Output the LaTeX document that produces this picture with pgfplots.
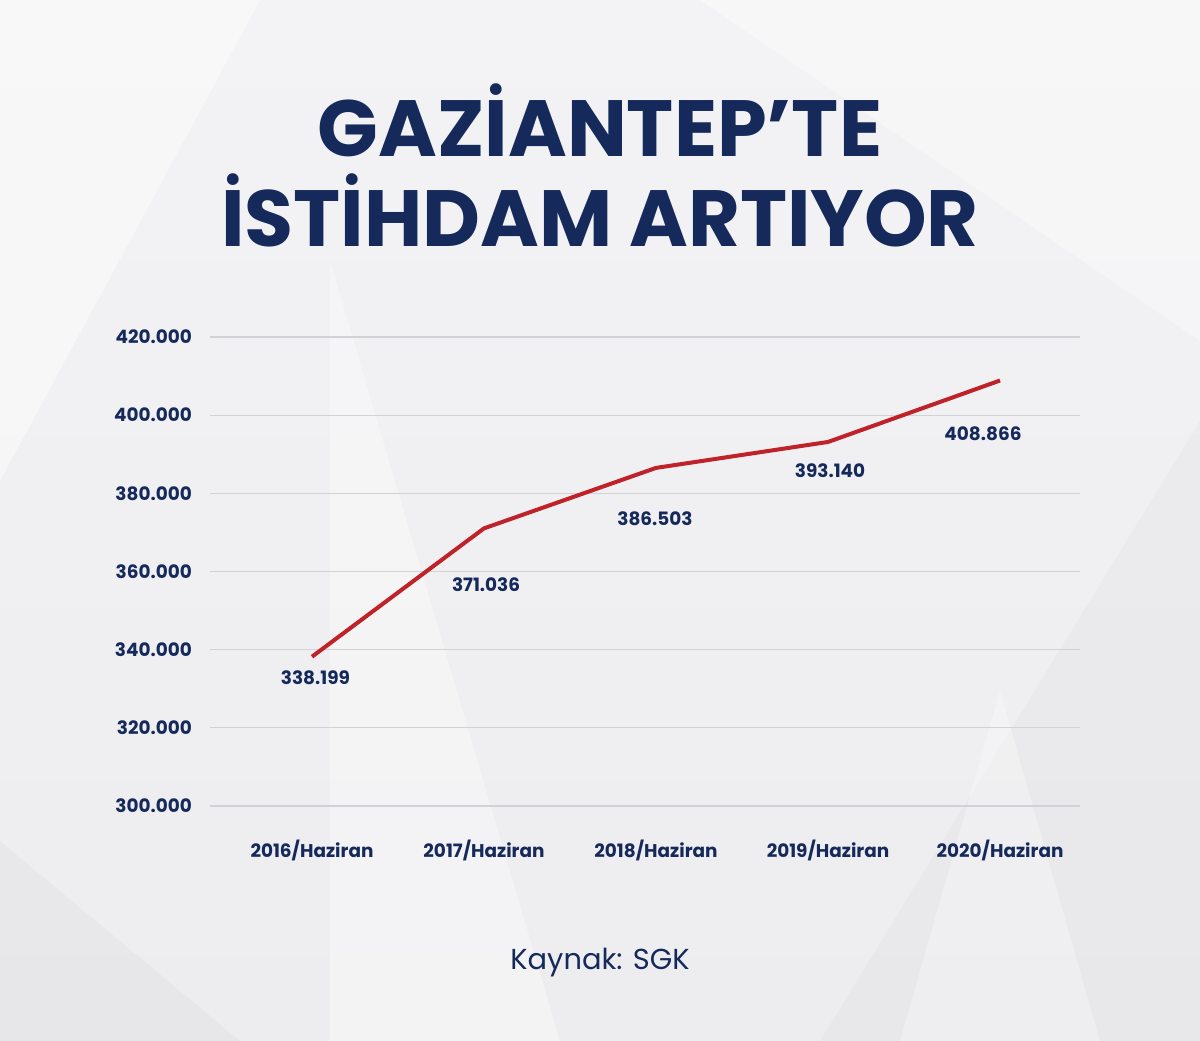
\documentclass[border=0pt]{standalone}
\usepackage{fontspec}
\setmainfont{Poppins}
\usepackage{pgfplots}
\pgfplotsset{compat=1.18}

\definecolor{navy}{HTML}{15295B}
\definecolor{linered}{HTML}{BF2229}
\definecolor{bgtop}{HTML}{F3F3F5}
\definecolor{bgbot}{HTML}{EDEDEF}
\definecolor{gridc}{HTML}{D2D2D6}

\begin{document}
\begin{tikzpicture}[x=1bp,y=1bp]
  % background
  \shade[top color=bgtop, bottom color=bgbot] (0,0) rectangle (1200,1041);
  \fill[white,opacity=0.45] (0,1041) -- (260,1041) -- (0,560) -- cycle;
  \fill[white,opacity=0.35] (330,0) -- (560,0) -- (330,780) -- cycle;
  \fill[black,opacity=0.025] (0,200) -- (240,0) -- (0,0) -- cycle;
  \fill[white,opacity=0.35] (700,1041) -- (1200,1041) -- (1200,700) -- cycle;
  \fill[black,opacity=0.02] (820,0) -- (1200,0) -- (1200,620) -- cycle;
  \fill[white,opacity=0.3] (900,0) -- (1100,0) -- (1000,350) -- cycle;

  % title
  \node[anchor=base, text=navy, inner sep=0pt,
        font=\fontsize{80}{80}\selectfont\bfseries] at (600,884) {GAZİANTEP’TE};
  \node[anchor=base, text=navy, inner sep=0pt,
        font=\fontsize{80}{80}\selectfont\bfseries] at (600,794) {İSTİHDAM ARTIYOR};

  \begin{axis}[
      at={(210bp,235bp)}, anchor=south west,
      scale only axis, width=870bp, height=469bp,
      xmin=-0.593, xmax=4.465, ymin=300000, ymax=420000,
      axis line style={draw=none}, tick style={draw=none},
      ymajorgrids, grid style={gridc, line width=1.2bp},
      xtick={0,1,2,3,4},
      xticklabels={2016/Haziran,2017/Haziran,2018/Haziran,2019/Haziran,2020/Haziran},
      ytick={300000,320000,340000,360000,380000,400000,420000},
      yticklabels={300.000,320.000,340.000,360.000,380.000,400.000,420.000},
      scaled y ticks=false,
      yticklabel style={anchor=east, inner sep=0pt, xshift=-18bp,
        text=navy, font=\fontsize{18.5}{18.5}\selectfont\bfseries},
      xticklabel style={anchor=base, inner sep=0pt, yshift=-52bp,
        text=navy, font=\fontsize{18.5}{18.5}\selectfont\bfseries},
      clip=false,
    ]
    \addplot[linered, line width=4bp, line join=round] coordinates {
      (0,338199) (1,371036) (2,386503) (3,393140) (4,408866)
    };
    \node[anchor=base, inner sep=0pt, text=navy,
      font=\fontsize{18.5}{18.5}\selectfont\bfseries] at (axis cs:0.02,330960) {338.199};
    \node[anchor=base, inner sep=0pt, text=navy,
      font=\fontsize{18.5}{18.5}\selectfont\bfseries] at (axis cs:1.012,354760) {371.036};
    \node[anchor=base, inner sep=0pt, text=navy,
      font=\fontsize{18.5}{18.5}\selectfont\bfseries] at (axis cs:1.994,371650) {386.503};
    \node[anchor=base, inner sep=0pt, text=navy,
      font=\fontsize{18.5}{18.5}\selectfont\bfseries] at (axis cs:3.012,383930) {393.140};
    \node[anchor=base, inner sep=0pt, text=navy,
      font=\fontsize{18.5}{18.5}\selectfont\bfseries] at (axis cs:3.901,393400) {408.866};
  \end{axis}

  % source
  \node[anchor=base, text=navy, inner sep=0pt,
        font=\fontsize{29}{29}\selectfont] at (600,71) {Kaynak: SGK};
\end{tikzpicture}
\end{document}
